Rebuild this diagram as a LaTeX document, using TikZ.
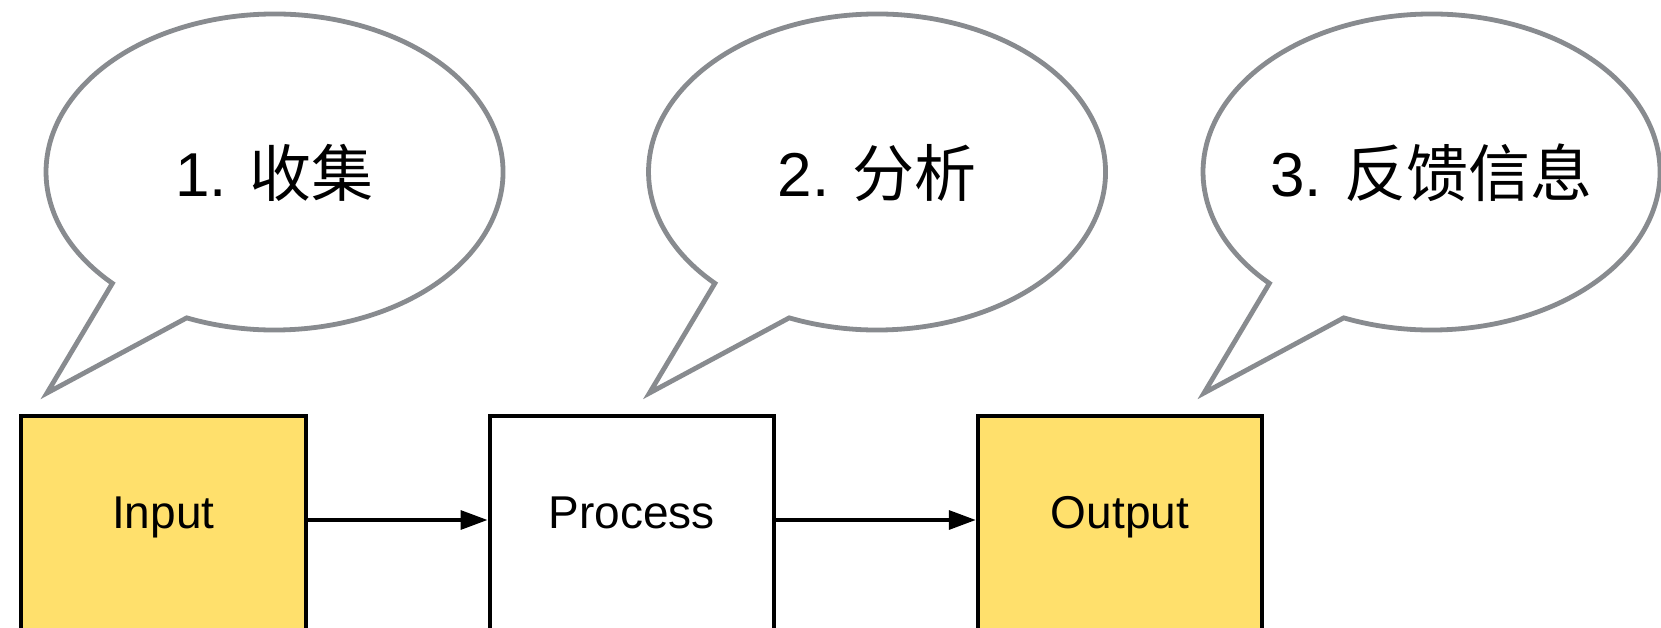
\documentclass[tikz,border=0pt]{standalone}
\usepackage{fontspec}
\setmainfont{Liberation Sans}
\newfontfamily\cjk{Noto Sans CJK SC}
\usetikzlibrary{arrows.meta}

\definecolor{bubblegray}{RGB}{136,139,143}
\definecolor{boxyellow}{RGB}{255,224,108}

% speech bubble: #1 name, #2 centre x, #3 label
\newcommand\calloutbubble[3]{%
  \coordinate (#1c) at (#2,455);
  \draw[bubble]
    ([shift={(247.4:228.5pt and 158pt)}]#1c)
    arc[start angle=247.4, end angle=584.8, x radius=228.5pt, y radius=158pt]
    -- ([shift={(-227.5,-221)}]#1c) -- cycle;
  \node[bubbletext] (#1) at ([yshift=-25]#1c) {#3};
}

\begin{document}
\begin{tikzpicture}[x=1pt, y=1pt,
  bubble/.style={draw=bubblegray, line width=4.8pt, fill=white, line join=miter},
  bubbletext/.style={anchor=base, font=\fontsize{62}{70}\selectfont, inner sep=0pt},
  stagebox/.style={draw=black, line width=4pt, minimum width=284.5pt,
    minimum height=300pt, anchor=north, inner sep=0pt},
  boxtext/.style={anchor=base, font=\fontsize{46}{54}\selectfont, inner sep=0pt},
  flow/.style={line width=3.4pt, -{Triangle[length=27pt, width=19pt]}}]

\fill[white] (0,0) rectangle (1661,627);
\useasboundingbox (0,0) rectangle (1661,627);

% callouts
\calloutbubble{b1}{274.5}{1. {\cjk 收集}}
\calloutbubble{b2}{877}{2. {\cjk 分析}}
\calloutbubble{b3}{1431.5}{3. {\cjk 反馈信息}}

% stages
\node[stagebox, fill=boxyellow] (in)   at (163.25,213.5) {};
\node[stagebox, fill=white]     (proc) at (631.75,213.5) {};
\node[stagebox, fill=boxyellow] (out)  at (1120,213.5) {};

\node[boxtext] (inlbl)   at ([yshift=-114.5]in.north)   {Input};
\node[boxtext] (proclbl) at ([yshift=-114.5]proc.north) {Process};
\node[boxtext] (outlbl)  at ([yshift=-114.5]out.north)  {Output};

% flow arrows
\draw[flow] ([yshift=-106.5]in.north east) -- ([yshift=-106.5]proc.north west);
\draw[flow] ([yshift=-106.5]proc.north east) -- ([yshift=-106.5]out.north west);
\end{tikzpicture}
\end{document}
